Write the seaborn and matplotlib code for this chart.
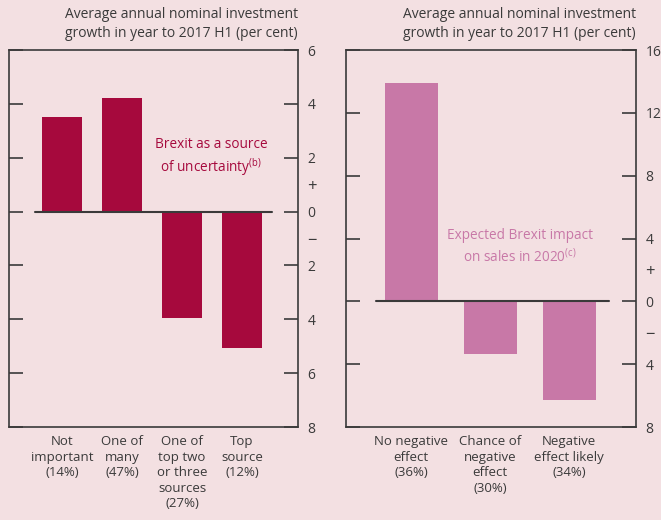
import numpy as np
import pandas as pd
import matplotlib
matplotlib.use('Agg')
import matplotlib.pyplot as plt
import seaborn as sns

# left panel: Brexit as a source of uncertainty
unc_cats = ['Not\nimportant\n(14%)', 'One of\nmany\n(47%)',
            'One of\ntop two\nor three\nsources\n(27%)', 'Top\nsource\n(12%)']
unc_vals = [3.5, 4.2, -3.95, -5.05]

# right panel: expected Brexit impact on sales in 2020
imp_cats = ['No negative\neffect\n(36%)', 'Chance of\nnegative\neffect\n(30%)',
            'Negative\neffect likely\n(34%)']
imp_vals = [13.9, -3.35, -6.3]

left_ticks = [6, 4, 2, 0, -2, -4, -6, -8]
right_ticks = [16, 12, 8, 4, 0, -4, -8]

bg = '#f3e0e2'
ink = '#3a3a3a'
crimson = '#a6093d'
pink = '#c878a7'
title = 'Average annual nominal investment\ngrowth in year to 2017 H1 (per cent)'

sns.set_style('white')
plt.rcParams['font.family'] = ['Open Sans', 'DejaVu Sans']
plt.rcParams['axes.edgecolor'] = ink
plt.rcParams['text.color'] = ink

fig = plt.figure(figsize=(6.61, 5.2), dpi=100, facecolor=bg)
ax1 = fig.add_axes([0.0136, 0.1788, 0.437, 0.725])
ax2 = fig.add_axes([0.523, 0.1788, 0.439, 0.725])


def style_panel(ax, cats, vals, color, ticks, signs, xlim, note, note_xy):
    ax.set_facecolor(bg)
    df = pd.DataFrame({'cat': cats, 'val': vals})
    sns.barplot(data=df, x='cat', y='val', color=color, saturation=1,
                width=0.67, linewidth=0, ax=ax)
    n = len(cats)
    ax.plot([-0.45, n - 0.5], [0, 0], color=ink, lw=1.5, zorder=3)
    ax.set_ylim(ticks[-1], ticks[0])
    ax.set_xlim(*xlim)
    ax.set_xlabel('')
    ax.set_ylabel('')

    ax.set_yticks(ticks)
    ax.set_yticklabels([str(abs(t)) for t in ticks])
    ax.set_yticks(signs, minor=True)
    ax.set_yticklabels(['+', '\u2212'], minor=True)
    ax.tick_params(axis='y', which='major', left=True, right=True,
                   labelleft=False, labelright=True, direction='in',
                   length=10, width=1.2, color=ink, labelsize=10, pad=7,
                   labelcolor=ink)
    ax.tick_params(axis='y', which='minor', left=False, right=True,
                   labelleft=False, labelright=True, length=0,
                   labelsize=12, pad=7, labelcolor=ink)

    ax.set_xticks(np.arange(n + 1) - 0.5)
    ax.set_xticklabels([])
    ax.set_xticks(np.arange(n), minor=True)
    ax.set_xticklabels(cats, minor=True, linespacing=1.25)
    ax.tick_params(axis='x', which='major', direction='in', length=10,
                   width=1.2, color=ink)
    ax.tick_params(axis='x', which='minor', length=0, labelsize=9.5,
                   pad=6, labelcolor=ink)

    for s in ax.spines.values():
        s.set_visible(True)
        s.set_color(ink)
        s.set_linewidth(1.2)

    ax.text(1.0, 1.025, title, transform=ax.transAxes, ha='right',
            va='bottom', fontsize=10, linespacing=1.35)
    ax.text(note_xy[0], note_xy[1], note, transform=ax.transAxes,
            ha='center', va='center', color=color, fontsize=9.8,
            linespacing=1.3)


style_panel(ax1, unc_cats, unc_vals, crimson, left_ticks, [1, -1],
            (-0.883, 3.93),
            'Brexit as a source\nof uncertainty$^{\\mathregular{(b)}}$',
            (0.70, 0.715))
style_panel(ax2, imp_cats, imp_vals, pink, right_ticks, [2, -2],
            (-0.83, 2.846),
            'Expected Brexit impact\non sales in 2020$^{\\mathregular{(c)}}$',
            (0.60, 0.478))

fig.savefig('out.png', dpi=100, facecolor=bg)
